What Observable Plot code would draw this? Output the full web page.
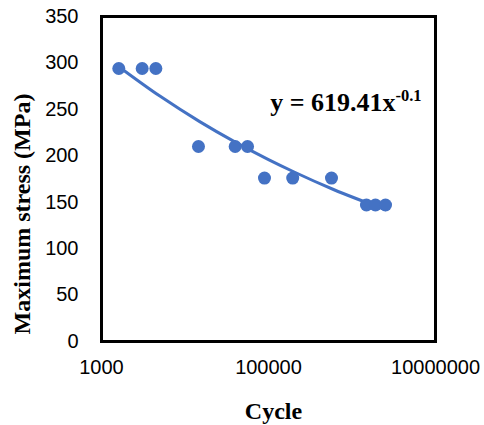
<!DOCTYPE html>
<html><head><meta charset="utf-8">
<script src="https://cdn.jsdelivr.net/npm/d3@7"></script>
<script src="https://cdn.jsdelivr.net/npm/@observablehq/plot@0.6"></script>
<style>body{margin:0;background:#fff}</style>
</head><body><div id="chart"></div>
<script>
const cycles = [1611, 3070, 4475, 14500, 39900, 56100, 89500, 195000, 568000, 1490000, 1910000, 2520000];
const stress = [294, 294, 294, 210, 210, 210, 176, 176, 176, 147, 147, 147];
const trendCycles = [1611, 5000, 15000, 40000, 100000, 200000, 600000, 2520000];
const trendStress = [296.0, 264.3, 236.8, 214.7, 195.9, 182.8, 163.7, 142.0];
const xTicks = [1000, 100000, 10000000];
const yTicks = [0, 50, 100, 150, 200, 250, 300, 350];
const xTitle = "Cycle";
const yTitle = "Maximum stress (MPa)";
const equationMain = "y = 619.41x";
const equationExp = "-0.1";

const points = cycles.map((c, i) => ({cycle: c, stress: stress[i]}));
const trend = trendCycles.map((c, i) => ({cycle: c, stress: trendStress[i]}));
const blue = "#4472C4";
const serif = "'Liberation Serif', 'Times New Roman', serif";

const chart = Plot.plot({
  width: 484,
  height: 425,
  marginLeft: 101,
  marginRight: 49,
  marginTop: 16,
  marginBottom: 84,
  style: {fontFamily: "'Liberation Sans', Arial, sans-serif", fontSize: "20px", color: "#000", background: "#fff"},
  x: {type: "log", domain: [1000, 10000000]},
  y: {domain: [0, 350]},
  marks: [
    Plot.axisY(yTicks, {tickSize: 0, tickPadding: 23, label: null}),
    Plot.axisX(xTicks, {tickSize: 0, tickPadding: 18, tickFormat: d => String(d), label: null}),
    Plot.frame({stroke: "#000", strokeWidth: 3}),
    Plot.line(trend, {x: "cycle", y: "stress", stroke: blue, strokeWidth: 3, curve: "monotone-x"}),
    Plot.dot(points, {x: "cycle", y: "stress", r: 6.5, fill: blue}),
    Plot.text([equationMain], {frameAnchor: "top-left", textAnchor: "end", dx: 294, dy: 86, lineAnchor: "middle", fontFamily: serif, fontWeight: "bold", fontSize: 26, fill: "#000"}),
    Plot.text([equationExp], {frameAnchor: "top-left", textAnchor: "start", dx: 294, dy: 79, lineAnchor: "middle", fontFamily: serif, fontWeight: "bold", fontSize: 16.5, fill: "#000"}),
    Plot.text([xTitle], {frameAnchor: "bottom", dx: 5, dy: 70, lineAnchor: "middle", fontFamily: serif, fontWeight: "bold", fontSize: 24, fill: "#000"}),
    Plot.text([yTitle], {frameAnchor: "left", textAnchor: "middle", dx: -79, dy: 35, rotate: -90, lineAnchor: "middle", fontFamily: serif, fontWeight: "bold", fontSize: 24, fill: "#000"})
  ]
});
document.getElementById("chart").appendChild(chart);
</script>
</body></html>
